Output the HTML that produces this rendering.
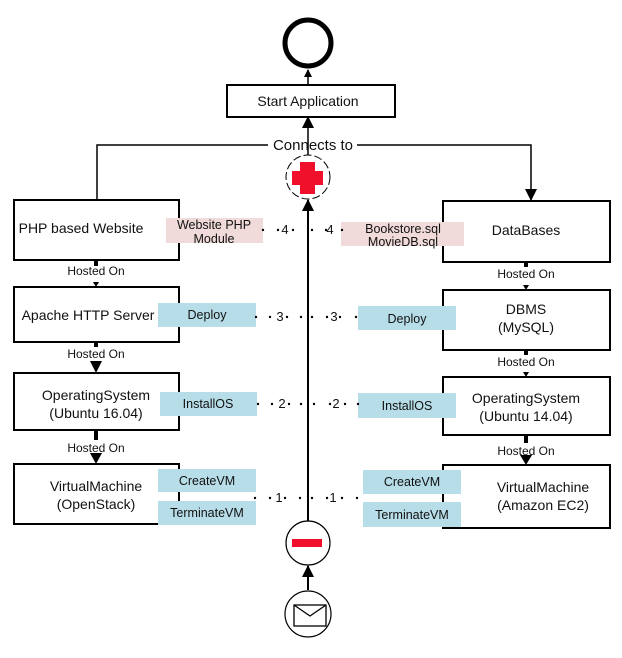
<!DOCTYPE html>
<html><head><meta charset="utf-8"><style>
body{margin:0;background:#fff;}
svg text{font-family:"Liberation Sans","DejaVu Sans",sans-serif;fill:#111;}
</style></head><body>
<svg width="622" height="653" viewBox="0 0 622 653" xmlns="http://www.w3.org/2000/svg">
<defs>
<marker id="a" markerWidth="8" markerHeight="8" refX="7" refY="4" orient="auto" markerUnits="userSpaceOnUse"><path d="M0,0 L8,4 L0,8 z" fill="#000"/></marker>
<marker id="b" markerWidth="12" markerHeight="12" refX="11" refY="6" orient="auto" markerUnits="userSpaceOnUse"><path d="M0,0 L12,6 L0,12 z" fill="#000"/></marker>
</defs>
<circle cx="308" cy="43" r="23" fill="none" stroke="#000" stroke-width="5"/>
<line x1="308" y1="85" x2="308" y2="70" stroke="#000" stroke-width="1.5" marker-end="url(#a)"/>
<rect x="227" y="85" width="168" height="32" fill="#fff" stroke="#000" stroke-width="2"/>
<text x="308" y="106" font-size="14" text-anchor="middle">Start Application</text>
<line x1="308" y1="522" x2="308" y2="200" stroke="#000" stroke-width="2" marker-end="url(#b)"/>
<line x1="308" y1="155" x2="308" y2="117" stroke="#000" stroke-width="1.5" marker-end="url(#b)"/>
<polyline points="97,200 97,145 268,145" fill="none" stroke="#000" stroke-width="1.5"/>
<polyline points="357,145 531,145 531,200" fill="none" stroke="#000" stroke-width="1.5" marker-end="url(#b)"/>
<text x="313" y="150" font-size="15" text-anchor="middle">Connects to</text>
<circle cx="308" cy="177" r="22" fill="#fff" stroke="#000" stroke-width="1" stroke-dasharray="8,3"/>
<rect x="300" y="162" width="15" height="32" fill="#f0102b"/>
<rect x="292" y="171" width="31" height="14" fill="#f0102b"/>
<circle cx="308" cy="543" r="22" fill="#fff" stroke="#000" stroke-width="1.2"/>
<rect x="292" y="539" width="30" height="8" fill="#f0102b"/>
<line x1="308" y1="590" x2="308" y2="566" stroke="#000" stroke-width="2" marker-end="url(#b)"/>
<circle cx="308" cy="614" r="23" fill="#fff" stroke="#000" stroke-width="1.2"/>
<rect x="294" y="605" width="32" height="21" fill="#fff" stroke="#000" stroke-width="1.3"/>
<polyline points="294,605 310,616 326,605" fill="none" stroke="#000" stroke-width="1.3"/>
<g stroke="#000" stroke-width="2" fill="#fff">
<rect x="14" y="200" width="165" height="60"/>
<rect x="14" y="287" width="165" height="55"/>
<rect x="14" y="373" width="165" height="57"/>
<rect x="14" y="464" width="165" height="60"/>
<rect x="443" y="201" width="167" height="61"/>
<rect x="443" y="290" width="167" height="60"/>
<rect x="443" y="377" width="167" height="58"/>
<rect x="443" y="465" width="167" height="63"/>
</g>
<g font-size="14" text-anchor="middle">
<text x="81" y="233">PHP based Website</text>
<text x="88" y="320">Apache HTTP Server</text>
<text x="96" y="400">OperatingSystem</text><text x="96" y="418">(Ubuntu 16.04)</text>
<text x="96" y="491">VirtualMachine</text><text x="96" y="509">(OpenStack)</text>
<text x="526" y="235">DataBases</text>
<text x="526" y="314">DBMS</text><text x="526" y="332">(MySQL)</text>
<text x="526" y="403">OperatingSystem</text><text x="526" y="421">(Ubuntu 14.04)</text>
<text x="543" y="492">VirtualMachine</text><text x="543" y="510">(Amazon EC2)</text>
</g>
<g stroke="#000" stroke-width="4">
<line x1="96" y1="260" x2="96" y2="266"/><line x1="96" y1="342" x2="96" y2="347"/><line x1="96" y1="430" x2="96" y2="440"/>
<line x1="526" y1="262" x2="526" y2="267"/><line x1="526" y1="350" x2="526" y2="355"/><line x1="526" y1="435" x2="526" y2="443"/>
</g>
<g fill="#000">
<path d="M93,282 L99,282 L96,287z"/><path d="M90,361 L102,361 L96,373z"/><path d="M90,453 L102,453 L96,464z"/>
<path d="M523,285 L529,285 L526,290z"/><path d="M523,372 L529,372 L526,377z"/><path d="M520,455 L532,455 L526,465z"/>
</g>
<g font-size="12" text-anchor="middle">
<text x="96" y="275">Hosted On</text><text x="96" y="358">Hosted On</text><text x="96" y="452">Hosted On</text>
<text x="526" y="278">Hosted On</text><text x="526" y="366">Hosted On</text><text x="526" y="455">Hosted On</text>
</g>
<rect x="166" y="218" width="97" height="25" fill="#f0dada"/>
<rect x="341" y="222" width="123" height="24" fill="#f0dada"/>
<rect x="158" y="303" width="98" height="24" fill="#b7dde8"/>
<rect x="358" y="306" width="98" height="24" fill="#b7dde8"/>
<rect x="160" y="392" width="97" height="24" fill="#b7dde8"/>
<rect x="358" y="393" width="98" height="25" fill="#b7dde8"/>
<rect x="158" y="469" width="98" height="23" fill="#b7dde8"/>
<rect x="158" y="501" width="98" height="24" fill="#b7dde8"/>
<rect x="363" y="470" width="98" height="24" fill="#b7dde8"/>
<rect x="363" y="502" width="98" height="25" fill="#b7dde8"/>
<g font-size="12.5" text-anchor="middle">
<text x="214" y="229">Website PHP</text><text x="214" y="243">Module</text>
<text x="403" y="233">Bookstore.sql</text><text x="403" y="246">MovieDB.sql</text>
<text x="207" y="319">Deploy</text><text x="407" y="323">Deploy</text>
<text x="208" y="408">InstallOS</text><text x="407" y="410">InstallOS</text>
<text x="207" y="485">CreateVM</text><text x="207" y="517">TerminateVM</text>
<text x="412" y="486">CreateVM</text><text x="412" y="519">TerminateVM</text>
</g>
<g fill="#000">
<circle cx="263" cy="230" r="1.2"/><circle cx="278" cy="230" r="1.2"/><circle cx="293" cy="230" r="1.2"/><circle cx="312" cy="230" r="1.2"/><circle cx="326" cy="230" r="1.2"/><circle cx="342" cy="230" r="1.2"/>
<circle cx="256" cy="317" r="1.2"/><circle cx="270" cy="317" r="1.2"/><circle cx="287" cy="317" r="1.2"/><circle cx="301" cy="317" r="1.2"/><circle cx="312" cy="317" r="1.2"/><circle cx="327" cy="317" r="1.2"/><circle cx="340" cy="317" r="1.2"/><circle cx="356" cy="317" r="1.2"/>
<circle cx="258" cy="404" r="1.2"/><circle cx="272" cy="404" r="1.2"/><circle cx="289" cy="404" r="1.2"/><circle cx="301" cy="404" r="1.2"/><circle cx="314" cy="404" r="1.2"/><circle cx="330" cy="404" r="1.2"/><circle cx="345" cy="404" r="1.2"/><circle cx="358" cy="404" r="1.2"/>
<circle cx="255" cy="498" r="1.2"/><circle cx="270" cy="498" r="1.2"/><circle cx="285" cy="498" r="1.2"/><circle cx="300" cy="498" r="1.2"/><circle cx="312" cy="498" r="1.2"/><circle cx="327" cy="498" r="1.2"/><circle cx="342" cy="498" r="1.2"/><circle cx="357" cy="498" r="1.2"/>
</g>
<g font-size="13" text-anchor="middle">
<text x="285" y="234">4</text><text x="330" y="234">4</text>
<text x="280" y="321">3</text><text x="334" y="321">3</text>
<text x="282" y="408">2</text><text x="336" y="408">2</text>
<text x="279" y="502">1</text><text x="333" y="502">1</text>
</g>
</svg>
</body></html>
